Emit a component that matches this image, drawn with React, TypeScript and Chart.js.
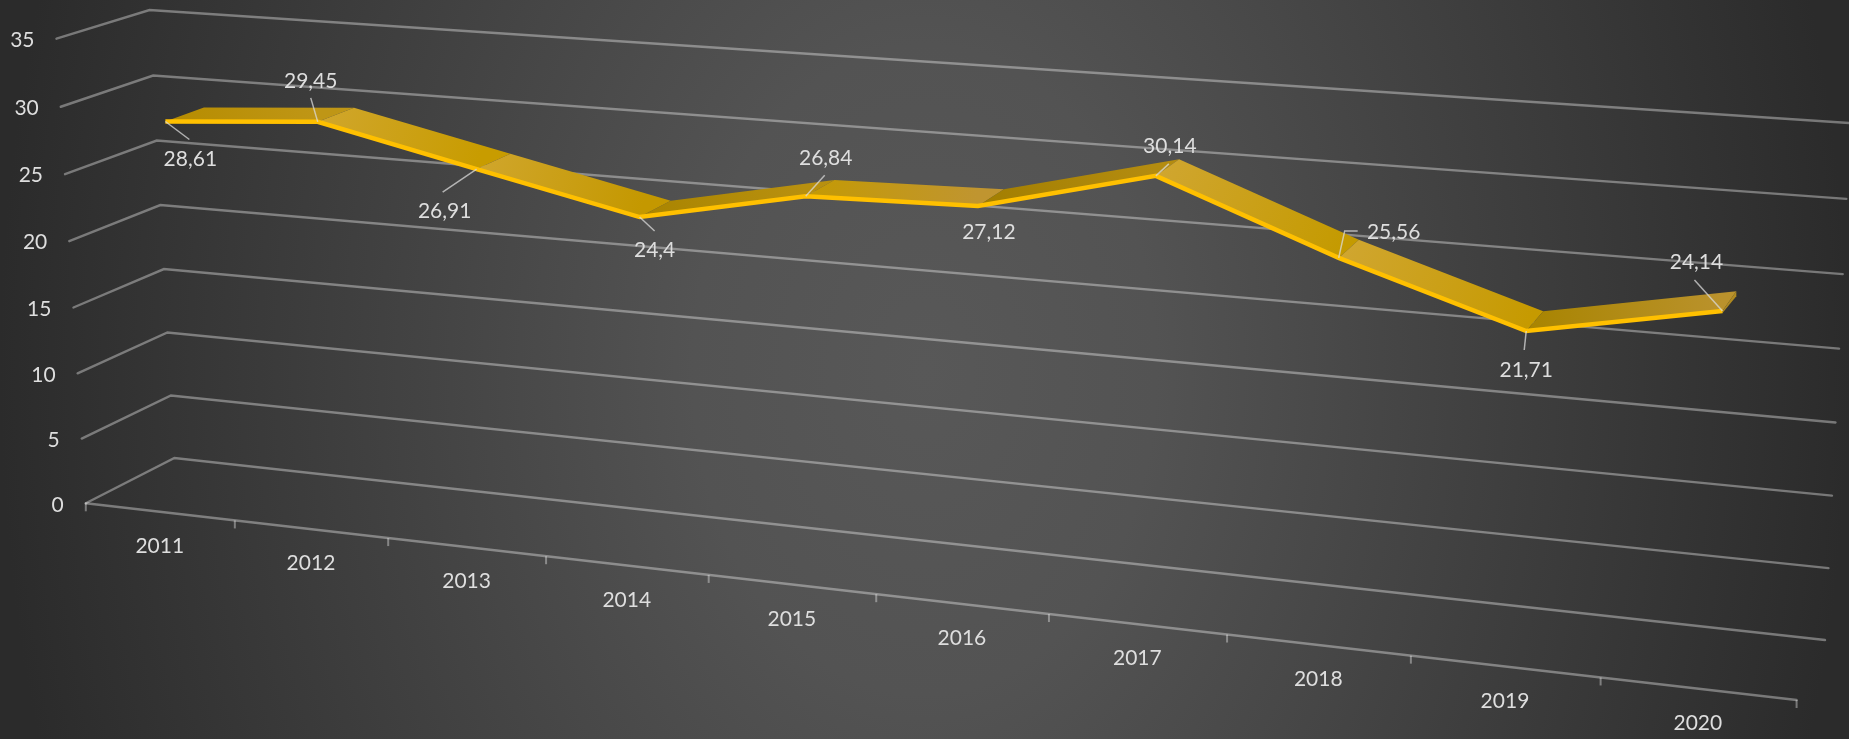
import React, { useEffect, useRef } from "react";
import { Chart, registerables } from "chart.js";

Chart.register(...registerables);

// ---- data ----
const years = ["2011", "2012", "2013", "2014", "2015", "2016", "2017", "2018", "2019", "2020"];
const values = [28.61, 29.45, 26.91, 24.4, 26.84, 27.12, 30.14, 25.56, 21.71, 24.14];
const yMax = 35;
const yStep = 5;

// ---- label placement relative to each projected point (style only) ----
const labelOffsets = [[25, 38], [-7, -41], [-32, 42], [15, 33], [20, -38], [11, 26], [14, -30], [55, -26], [0, 39], [-26, -49]];
const leaderOffsets = [
  [[24, 18]], [[-7, -24]], [[-34, 23]], [[15, 14]], [[19, -21]], [],
  [[13, -12]], [[6, -27], [19, -27]], [[-2, 19]], [[-28, -31]],
];
// ---- top face shading: start / end tone of each ribbon segment ----
const segmentTones = [
  ["#b68c00", "#bf9616"], ["#d0a62c", "#c89c00"], ["#d0a62c", "#c49800"], ["#a98400", "#b8900f"], ["#c49a04", "#c09530"],
  ["#a27e00", "#b48c10"], ["#d0a630", "#c49a00"], ["#d0a630", "#c69a00"], ["#a88400", "#ba922c"],
];

// ---- perspective frame of the 3D box (corner positions on screen) ----
type P = [number, number];
const frontCorners: P[] = [[85.8, 503.3], [1796.6, 700], [1821.7, 163.2], [56.5, 38.7]];
const backCorners: P[] = [[174.4, 458], [1825, 640], [1850, 123], [149.5, 10]];
const ribbonDepth = [0.31, 0.74];

function homography(q: P[]) {
  const [[x0, y0], [x1, y1], [x2, y2], [x3, y3]] = q;
  const dx1 = x1 - x2, dx2 = x3 - x2, dx3 = x0 - x1 + x2 - x3;
  const dy1 = y1 - y2, dy2 = y3 - y2, dy3 = y0 - y1 + y2 - y3;
  const den = dx1 * dy2 - dx2 * dy1;
  const g = (dx3 * dy2 - dx2 * dy3) / den;
  const h = (dx1 * dy3 - dx3 * dy1) / den;
  const a = x1 - x0 + g * x1, b = x3 - x0 + h * x3;
  const d = y1 - y0 + g * y1, e = y3 - y0 + h * y3;
  return (u: number, v: number): P => {
    const w = g * u + h * v + 1;
    return [(a * u + b * v + x0) / w, (d * u + e * v + y0) / w];
  };
}
const frontPlane = homography(frontCorners);
const backPlane = homography(backCorners);
function project(u: number, v: number, z: number): P {
  const f = frontPlane(u, v), b = backPlane(u, v);
  return [f[0] + (b[0] - f[0]) * z, f[1] + (b[1] - f[1]) * z];
}

const FONT = '21px Lato, "Open Sans", sans-serif';
const TEXT = "#dedede";
const GRID = "rgba(255,255,255,0.36)";

// Normalised position of a category/value through the chart's own scales.
function normX(chart: any, index: number) {
  const s = chart.scales.x;
  return (s.getPixelForValue(index) - s.left) / (s.right - s.left);
}
function normY(chart: any, value: number) {
  const s = chart.scales.y;
  return (s.bottom - s.getPixelForValue(value)) / (s.bottom - s.top);
}

const perspectivePlugin = {
  id: "perspective",
  afterDatasetsUpdate(chart: any) {
    const meta = chart.getDatasetMeta(0);
    meta.data.forEach((pt: any, i: number) => {
      const [x, y] = project(normX(chart, i), normY(chart, values[i]), ribbonDepth[0]);
      pt.x = x;
      pt.y = y;
    });
  },
  beforeDatasetsDraw(chart: any) {
    const { ctx } = chart;
    ctx.save();
    ctx.lineCap = "round";
    ctx.lineJoin = "miter";

    // walls: one line per tick of the value axis
    ctx.strokeStyle = GRID;
    ctx.lineWidth = 2.4;
    chart.scales.y.ticks.forEach((t: any) => {
      const v = normY(chart, t.value);
      const a = project(0, v, 0), b = project(0, v, 1), c = project(1, v, 1);
      ctx.beginPath();
      ctx.moveTo(a[0], a[1]);
      ctx.lineTo(b[0], b[1]);
      ctx.lineTo(c[0], c[1]);
      ctx.stroke();
    });

    // category axis line with its tick marks at the band boundaries
    const a0 = project(0, 0, 0), a1 = project(1, 0, 0);
    ctx.beginPath();
    ctx.moveTo(a0[0], a0[1]);
    ctx.lineTo(a1[0], a1[1]);
    ctx.stroke();
    ctx.lineCap = "butt";
    ctx.lineWidth = 2;
    for (let i = 0; i <= years.length; i++) {
      const p = project(normX(chart, i - 0.5), 0, 0);
      ctx.beginPath();
      ctx.moveTo(p[0], p[1]);
      ctx.lineTo(p[0], p[1] + 8);
      ctx.stroke();
    }

    // ribbon top face
    for (let i = 0; i < values.length - 1; i++) {
      const u0 = normX(chart, i), u1 = normX(chart, i + 1);
      const v0 = normY(chart, values[i]), v1 = normY(chart, values[i + 1]);
      const f0 = project(u0, v0, ribbonDepth[0]), f1 = project(u1, v1, ribbonDepth[0]);
      const b0 = project(u0, v0, ribbonDepth[1]), b1 = project(u1, v1, ribbonDepth[1]);
      const g = ctx.createLinearGradient(f0[0], f0[1], f1[0], f1[1]);
      g.addColorStop(0, segmentTones[i][0]);
      g.addColorStop(1, segmentTones[i][1]);
      ctx.fillStyle = g;
      ctx.beginPath();
      ctx.moveTo(f0[0], f0[1]);
      ctx.lineTo(f1[0], f1[1]);
      ctx.lineTo(b1[0], b1[1]);
      ctx.lineTo(b0[0], b0[1]);
      ctx.closePath();
      ctx.fill();
    }
    // end cap of the ribbon
    const un = normX(chart, values.length - 1), vn = normY(chart, values[values.length - 1]);
    const e0 = project(un, vn, ribbonDepth[0]), e1 = project(un, vn, ribbonDepth[1]);
    ctx.fillStyle = "#b08a20";
    ctx.beginPath();
    ctx.moveTo(e0[0], e0[1]);
    ctx.lineTo(e1[0], e1[1]);
    ctx.lineTo(e1[0], e1[1] + 5);
    ctx.lineTo(e0[0], e0[1] + 2);
    ctx.closePath();
    ctx.fill();
    ctx.restore();
  },
  afterDatasetsDraw(chart: any) {
    const { ctx } = chart;
    const meta = chart.getDatasetMeta(0);
    ctx.save();
    ctx.font = FONT;
    ctx.fillStyle = TEXT;
    ctx.textBaseline = "middle";

    // value axis labels
    ctx.textAlign = "right";
    chart.scales.y.ticks.forEach((t: any) => {
      const p = project(0, normY(chart, t.value), 0);
      ctx.fillText(String(t.value), p[0] - 22, p[1] + 1.5);
    });

    // category labels
    ctx.textAlign = "center";
    chart.scales.x.getLabels().forEach((label: string, i: number) => {
      const p = project(normX(chart, i), 0, 0);
      ctx.fillText(label, p[0], p[1] + 34.5);
    });

    // data labels and their leader lines
    ctx.strokeStyle = "rgba(217,217,217,0.75)";
    ctx.lineWidth = 1.5;
    meta.data.forEach((pt: any, i: number) => {
      const path = leaderOffsets[i];
      if (path.length) {
        ctx.beginPath();
        ctx.moveTo(pt.x, pt.y);
        path.forEach((o: number[]) => ctx.lineTo(pt.x + o[0], pt.y + o[1]));
        ctx.stroke();
      }
      const text = String(values[i]).replace(".", ",");
      ctx.fillText(text, pt.x + labelOffsets[i][0], pt.y + labelOffsets[i][1]);
    });
    ctx.restore();
  },
};

export default function App() {
  const ref = useRef<HTMLCanvasElement>(null);
  useEffect(() => {
    const chart = new Chart(ref.current as HTMLCanvasElement, {
      type: "line",
      data: {
        labels: years,
        datasets: [
          {
            data: values,
            borderColor: "#ffc000",
            borderWidth: 4.5,
            pointRadius: 0,
            tension: 0,
            clip: false as any,
            borderCapStyle: "butt",
            borderJoinStyle: "miter",
          },
        ],
      },
      options: {
        animation: false,
        responsive: false,
        layout: { padding: 0 },
        plugins: { legend: { display: false }, title: { display: false }, tooltip: { enabled: false } },
        scales: {
          x: { type: "category", display: false, offset: true },
          y: { type: "linear", display: false, min: 0, max: yMax, ticks: { stepSize: yStep } },
        },
      },
      plugins: [perspectivePlugin],
    });
    return () => chart.destroy();
  }, []);
  return (
    <div
      style={{
        position: "fixed",
        left: 0,
        top: 0,
        width: 1849,
        height: 739,
        background: "radial-gradient(ellipse 925px 1300px at 50% 50%, #585858 0%, #535353 25%, #2b2b2b 100%)",
      }}
    >
      <canvas ref={ref} width={1849} height={739} style={{ display: "block" }} />
    </div>
  );
}
